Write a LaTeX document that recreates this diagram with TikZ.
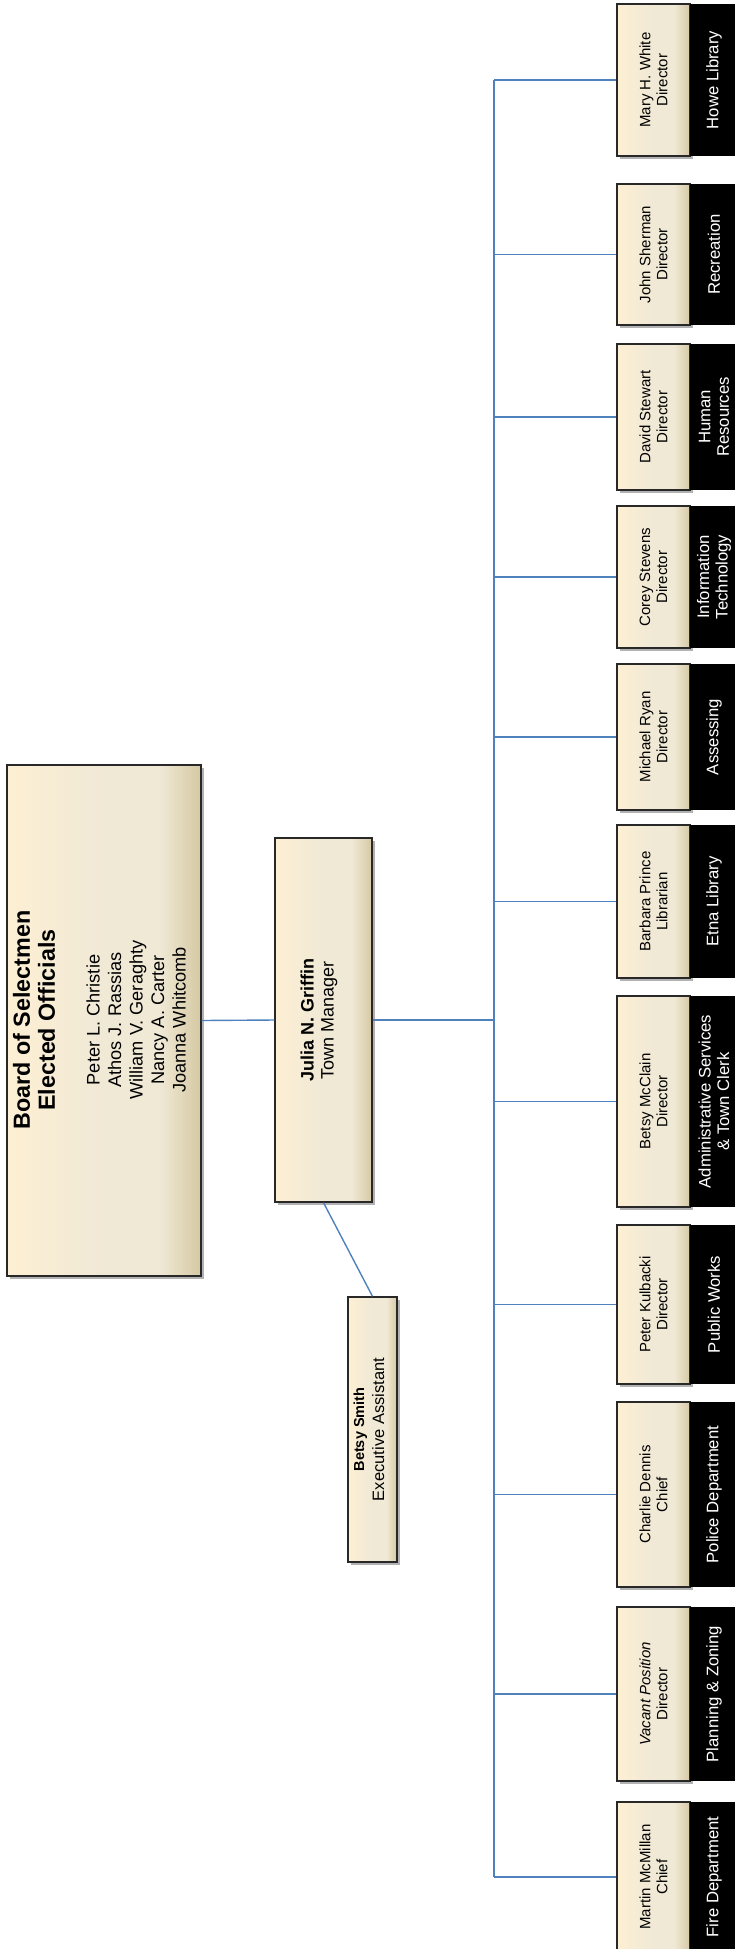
\documentclass[tikz,border=0pt]{standalone}
\usepackage{fontspec}
\setmainfont{Liberation Sans}
\usetikzlibrary{shadows}
\definecolor{creamL}{RGB}{253,239,211}
\definecolor{creamM}{RGB}{240,233,214}
\definecolor{creamR}{RGB}{213,201,163}
\definecolor{edgec}{RGB}{40,40,40}
\definecolor{linkc}{RGB}{79,129,189}
\pgfdeclarehorizontalshading{creamsh}{100bp}{color(0bp)=(creamL); color(25bp)=(creamL); color(50bp)=(creamM); color(64bp)=(creamM); color(75bp)=(creamR); color(100bp)=(creamR)}
\newcommand\orgchild[5]{%
  \node[card, minimum width=73pt, minimum height=#3pt] (#1) at (653.5,#2) {};
  \node[deptbox, minimum height=#3pt] (#1d) at (714,#2) {};
  \node[nametxt] (#1n) at (#1.center) {#4};
  \node[depttxt] (#1t) at (#1d.center) {#5};
  \draw[thinlink] (bus |- #1.west) -- (#1.west);
}
\begin{document}
\begin{tikzpicture}[x=1pt,y=-1pt,
  card/.style={draw=edgec, line width=1.3pt, shading=creamsh, shading angle=0, inner sep=0pt,
    drop shadow={shadow xshift=2.5pt, shadow yshift=-2.5pt, opacity=0.3, fill=black}},
  deptbox/.style={fill=black, inner sep=0pt, minimum width=48pt},
  nametxt/.style={rotate=90, align=center, inner sep=0pt, font=\fontsize{15}{17}\selectfont},
  depttxt/.style={rotate=90, align=center, inner sep=0pt, text=white, font=\fontsize{16.7}{18.5}\selectfont},
  thinlink/.style={draw=linkc, line width=1.4pt},
  thicklink/.style={draw=linkc, line width=2.7pt}]
\useasboundingbox (0,0) rectangle (735,1949);

% top
\node[card, minimum width=194pt, minimum height=511pt] (board) at (104,1020.5) {};
\node[rotate=90, align=center, inner sep=0pt, font=\fontsize{23.3}{25}\selectfont\bfseries] (boardt) at (34,1020) {Board of Selectmen\\Elected Officials};
\node[rotate=90, align=center, inner sep=0pt, font=\fontsize{18.2}{21.5}\selectfont] (boardn) at (136,1020) {Peter L. Christie\\Athos J. Rassias\\William V. Geraghty\\Nancy A. Carter\\Joanna Whitcomb};

\node[card, minimum width=97pt, minimum height=364pt] (julia) at (323.5,1020) {};
\node[rotate=90, align=center, inner sep=0pt, font=\fontsize{18}{20}\selectfont] (juliat) at (319,1020) {{\bfseries Julia N. Griffin}\\Town Manager};

\node[card, minimum width=49pt, minimum height=265pt] (betsy) at (372.5,1429.5) {};
\node[rotate=90, align=center, inner sep=0pt, font=\fontsize{16.5}{20}\selectfont] (betsyt) at (369,1429.5) {{\fontsize{14.5}{20}\selectfont\bfseries Betsy Smith}\\Executive Assistant};

\draw[thinlink] (board.east) -- (julia.west);
\draw[thinlink] (julia.south) -- (betsy.north);
\coordinate (bus) at (494,1020);
\draw[thicklink] (julia.east) -- (bus);

\orgchild{howe}{80}{152}{Mary H. White\\Director}{Howe Library}
\orgchild{rec}{254.5}{141}{John Sherman\\Director}{Recreation}
\orgchild{hr}{417}{146}{David Stewart\\Director}{Human\\Resources}
\orgchild{it}{577}{142}{Corey Stevens\\Director}{Information\\Technology}
\orgchild{asse}{737}{146}{Michael Ryan\\Director}{Assessing}
\orgchild{etna}{901.5}{153}{Barbara Prince\\Librarian}{Etna Library}
\orgchild{admin}{1101.5}{211}{Betsy McClain\\Director}{Administrative Services\\\& Town Clerk}
\orgchild{pw}{1304.5}{159}{Peter Kulbacki\\Director}{Public Works}
\orgchild{police}{1494.5}{185}{Charlie Dennis\\Chief}{Police Department}
\orgchild{plan}{1694}{174}{\textit{Vacant Position}\\Director}{Planning \& Zoning}
\orgchild{fire}{1877}{150}{Martin McMillan\\Chief}{Fire Department}

\draw[thinlink] (bus |- howe.west) -- (bus |- it.west);
\draw[thicklink] (bus |- it.west) -- (bus |- plan.west);
\draw[thinlink] (bus |- plan.west) -- (bus |- fire.west);
\end{tikzpicture}
\end{document}
